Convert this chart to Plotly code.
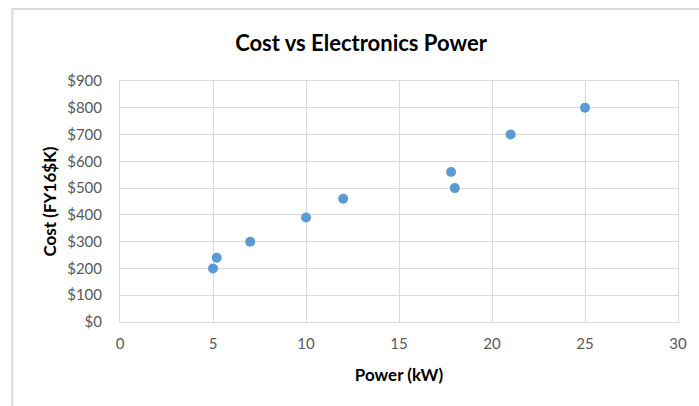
import plotly.graph_objects as go

# Electronics power (kW) and cost (FY16 $K)
power_kw = [5, 5.2, 7, 10, 12, 17.8, 18, 21, 25]
cost_k = [200, 240, 300, 390, 460, 560, 500, 700, 800]

x_ticks = [0, 5, 10, 15, 20, 25, 30]
y_ticks = [0, 100, 200, 300, 400, 500, 600, 700, 800, 900]
y_tick_text = ["$" + str(v) for v in y_ticks]

W, H = 699, 406
L, R, T, B = 120, 19, 81, 84
pw, ph = W - L - R, H - T - B


def px_to_paper_x(px):
    return (px - L) / pw


def px_to_paper_y(py):
    return (H - B - py) / ph


font_family = "Lato, 'Open Sans', sans-serif"
grid = "#d9d9d9"

fig = go.Figure(
    go.Scatter(
        x=power_kw,
        y=cost_k,
        mode="markers",
        marker=dict(size=10, color="#5b9bd5", line=dict(width=0)),
        showlegend=False,
    )
)

fig.update_layout(
    width=W,
    height=H,
    margin=dict(l=L, r=R, t=T, b=B),
    paper_bgcolor="white",
    plot_bgcolor="white",
    font=dict(family=font_family, color="#595959", size=15),
    title=dict(
        text="<b>Cost vs Electronics Power</b>",
        x=361 / W,
        xanchor="center",
        y=1 - 43 / H,
        yanchor="middle",
        font=dict(size=22, color="black", family=font_family),
    ),
    xaxis=dict(
        range=[0, 30],
        tickvals=x_ticks,
        showgrid=True,
        gridcolor=grid,
        gridwidth=1,
        zeroline=False,
        showline=True,
        linecolor=grid,
        mirror=True,
        ticks="",
        ticklabelstandoff=8,
        tickfont=dict(size=15, color="#595959"),
        title=dict(
            text="<b>Power (kW)</b>",
            font=dict(size=17, color="black"),
            standoff=18,
        ),
    ),
    yaxis=dict(
        range=[0, 900],
        tickvals=y_ticks,
        ticktext=y_tick_text,
        showgrid=True,
        gridcolor=grid,
        gridwidth=1,
        zeroline=False,
        showline=True,
        linecolor=grid,
        mirror=True,
        ticks="",
        ticklabelstandoff=14,
        tickfont=dict(size=15, color="#595959"),
        title=dict(
            text="<b>Cost (FY16$K)</b>",
            font=dict(size=17, color="black"),
            standoff=6,
        ),
    ),
    shapes=[
        dict(
            type="rect",
            xref="paper",
            yref="paper",
            x0=px_to_paper_x(12),
            x1=px_to_paper_x(W + 5),
            y0=px_to_paper_y(H + 5),
            y1=px_to_paper_y(9),
            line=dict(color=grid, width=2),
            fillcolor="rgba(0,0,0,0)",
            layer="below",
        )
    ],
)

fig.write_html("out.html")
